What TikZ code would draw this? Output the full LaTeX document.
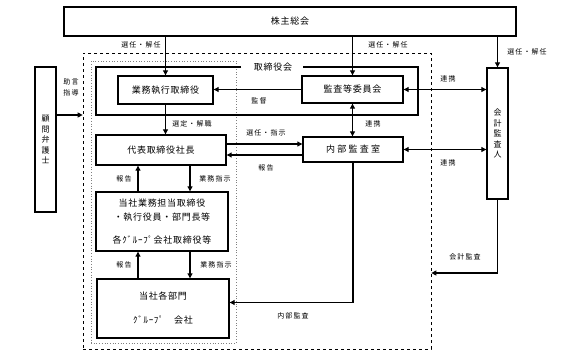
\documentclass[tikz,border=0pt]{standalone}
\usepackage{fontspec}
\setmainfont{Noto Sans CJK JP}
\usetikzlibrary{arrows.meta,calc}
\tikzset{
  box/.style={draw, line width=1.4pt, inner sep=0pt, align=center,
    font=\fontsize{9}{14}\selectfont\addfontfeature{LetterSpace=8}},
  vbox/.style={draw, line width=1.4pt, inner sep=0pt, align=center,
    font=\fontsize{8}{10.5}\selectfont},
  lbl/.style={inner sep=0pt, font=\fontsize{7}{9}\selectfont\addfontfeature{LetterSpace=15}},
  arr/.style={line width=1.1pt, -{Triangle[length=5pt,width=5pt]}},
  darr/.style={line width=1.1pt, {Triangle[length=5pt,width=5pt]}-{Triangle[length=5pt,width=5pt]}},
  frame/.style={line width=1.1pt},
}
\begin{document}
\begin{tikzpicture}[x=1pt,y=-1pt]
\useasboundingbox[fill=white] (0,0) rectangle (567,356);

% enclosing frames
\node[draw, dashed, line width=0.7pt, minimum width=348pt, minimum height=296pt, inner sep=0pt] (outer) at (257,201) {};
\node[draw, dotted, gray, line width=0.7pt, minimum width=145pt, minimum height=282pt, inner sep=0pt] (inner) at (163.5,202) {};

% boxes
\node[box, minimum width=452pt, minimum height=29pt] (sh) at (290,21.5) {株主総会};
\node[box, minimum width=95pt, minimum height=28pt] (gyomu) at (165.5,90) {業務執行取締役};
\node[box, minimum width=101pt, minimum height=27pt] (kansa) at (352.5,89.5) {監査等委員会};
\node[box, minimum width=130pt, minimum height=30pt] (daihyo) at (161,150) {代表取締役社長};
\node[box, minimum width=100pt, minimum height=25pt, font=\fontsize{9}{14}\selectfont\addfontfeature{LetterSpace=25}] (naibu) at (353,149.5) {内部監査室};
\node[box, minimum width=132pt, minimum height=59pt] (tanto) at (162,221.5) {当社業務担当取締役\\・執行役員・部門長等\\[9pt]各ｸﾞﾙｰﾌﾟ会社取締役等};
\node[box, minimum width=132pt, minimum height=59pt, font=\fontsize{9}{24}\selectfont\addfontfeature{LetterSpace=8}] (kakubu) at (163,308.5) {当社各部門\\ｸﾞﾙｰﾌﾟ　会社};
\node[vbox, minimum width=21pt, minimum height=131pt] (kaikei) at (497.5,133.5) {会\\計\\監\\査\\人};
\node[vbox, minimum width=21pt, minimum height=145pt] (komon) at (45.5,139.5) {顧\\問\\弁\\護\\士};

% board of directors bracket
\node[inner sep=0pt, font=\fontsize{9}{11}\selectfont\addfontfeature{LetterSpace=8}] (torikai) at (273,67) {取締役会};
\coordinate (bl) at (96,115);
\coordinate (br) at (418,115);
\draw[frame] ([xshift=-32pt]torikai.center) -| (bl) -| (br) |- ([xshift=30pt]torikai.center);

% helper coordinates
\coordinate (y115) at (0,115);
\coordinate (y273) at (0,273);
\coordinate (cr) at ([xshift=-24pt]tanto.north);
\coordinate (ci) at ([xshift=28pt]tanto.north);

% arrows from shareholders
\draw[arr] (sh.south -| gyomu.north) -- (gyomu.north);
\draw[arr] (sh.south -| kansa.north) -- (kansa.north);
\draw[arr] (sh.south -| kaikei.north) -- (kaikei.north);

\draw[arr] (kansa.west) -- (kansa.west -| gyomu.east);
\draw[arr] (gyomu.south) -- (gyomu.south |- daihyo.north);
\draw[darr] (kansa.south) -- (kansa.south |- naibu.north);
\draw[arr] ([yshift=6pt]daihyo.east) -- ([yshift=6pt]daihyo.east -| naibu.west);
\draw[arr] ([yshift=-5.5pt]naibu.west) -- ([yshift=-5.5pt]naibu.west -| daihyo.east);
\draw[darr] (kansa.east) -- (kansa.east -| kaikei.west);
\draw[darr] (naibu.east) -- (naibu.east -| kaikei.west);
\draw[arr] (komon.east |- y115) -- (outer.west |- y115);
\draw[arr] (naibu.south) |- ([yshift=6pt]kakubu.east);
\draw[arr] (kaikei.south) |- (outer.east |- y273);

\draw[arr] (cr |- tanto.north) -- (cr |- daihyo.south);
\draw[arr] (ci |- daihyo.south) -- (ci |- tanto.north);
\draw[arr] (cr |- kakubu.north) -- (cr |- tanto.south);
\draw[arr] (ci |- tanto.south) -- (ci |- kakubu.north);

% labels
\node[lbl] (l1) at (141,45) {選任・解任};
\node[lbl] (l2) at (388,45) {選任・解任};
\node[lbl] (l3) at (527,52) {選任・解任};
\node[lbl, align=center, font=\fontsize{7}{11}\selectfont\addfontfeature{LetterSpace=15}] (l4) at (71,87.5) {助言\\指導};
\node[lbl] (l5) at (259,101) {監督};
\node[lbl] (l6) at (192,124) {選定・解職};
\node[lbl] (l7) at (373,124) {連携};
\node[lbl] (l8) at (266,133) {選任・指示};
\node[lbl] (l9) at (266,168) {報告};
\node[lbl] (l10) at (448,79) {連携};
\node[lbl] (l11) at (448,163) {連携};
\node[lbl] (l12) at (124,179) {報告};
\node[lbl] (l13) at (215,179) {業務指示};
\node[lbl] (l14) at (124,265) {報告};
\node[lbl] (l15) at (216,265) {業務指示};
\node[lbl] (l16) at (465,257) {会計監査};
\node[lbl] (l17) at (293,316) {内部監査};
\end{tikzpicture}
\end{document}
